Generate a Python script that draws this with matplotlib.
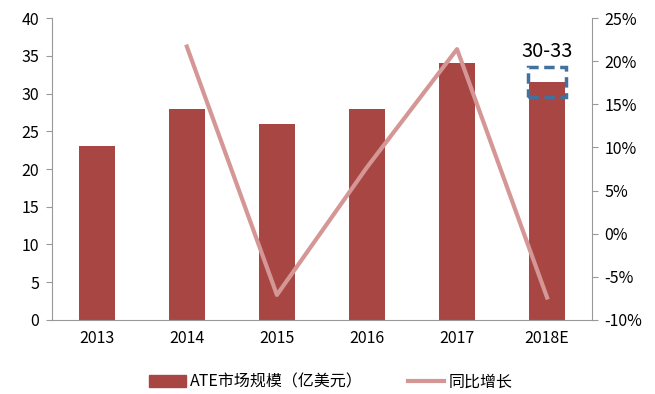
import matplotlib
matplotlib.use("Agg")
import matplotlib.pyplot as plt
import numpy as np
from matplotlib.patches import Rectangle
from matplotlib.lines import Line2D

plt.rcParams['font.family'] = ['Noto Sans CJK SC', 'DejaVu Sans']

# data
years = ['2013', '2014', '2015', '2016', '2017', '2018E']
market = [23, 28, 26, 28, 34, 31.5]              # 亿美元
growth = [np.nan, 21.7, -7.1, 7.7, 21.4, -7.4]    # %
range_low, range_high = 30, 33

bar_color = '#A84644'
line_color = '#D59696'
axis_gray = '#999999'

fig = plt.figure(figsize=(6.55, 3.94), dpi=100)
ax = fig.add_axes([0.079, 0.188, 0.825, 0.766])
x = np.arange(len(years))

ax.bar(x, market, width=0.4, color=bar_color, zorder=2)
ax.set_ylim(0, 40)
ax.set_yticks(range(0, 41, 5))
ax.set_xlim(-0.5, len(years) - 0.5)
ax.set_xticks(x)
ax.set_xticklabels(years)

ax2 = ax.twinx()
ax2.plot(x, growth, color=line_color, lw=3, zorder=3)
ax2.set_ylim(-10, 25)
ax2.set_yticks(range(-10, 26, 5))
ax2.set_yticklabels([f'{v}%' for v in range(-10, 26, 5)])

# forecast range box for 2018E
ax.add_patch(Rectangle((x[-1] - 0.21, range_low - 0.5), 0.42, range_high - range_low + 1,
                       fill=False, ls=(0, (3, 1.6)), lw=2.5, edgecolor='#41719C', zorder=4))
ax.text(x[-1], 34.2, f'{range_low}-{range_high}', ha='center', va='bottom', fontsize=14.5)

for a in (ax, ax2):
    for s in a.spines.values():
        s.set_visible(False)
    a.tick_params(labelsize=11.5, colors='black', length=4, color=axis_gray)
ax.spines['left'].set_visible(True)
ax.spines['left'].set_color(axis_gray)
ax.spines['bottom'].set_visible(True)
ax.spines['bottom'].set_color(axis_gray)
ax2.spines['right'].set_visible(True)
ax2.spines['right'].set_color(axis_gray)
ax.tick_params(axis='x', length=0, pad=7)
ax.tick_params(axis='y', pad=5)
ax2.tick_params(axis='y', pad=5)

handles = [Rectangle((0, 0), 1, 1, color=bar_color),
           Line2D([0], [0], color=line_color, lw=3)]
fig.legend(handles, ['ATE市场规模（亿美元）', '同比增长'], loc='center',
           bbox_to_anchor=(0.505, 0.03), ncol=2, frameon=False, fontsize=11.5,
           handlelength=2.3, columnspacing=2.8, handletextpad=0.25)

fig.savefig('out.png', dpi=100)
